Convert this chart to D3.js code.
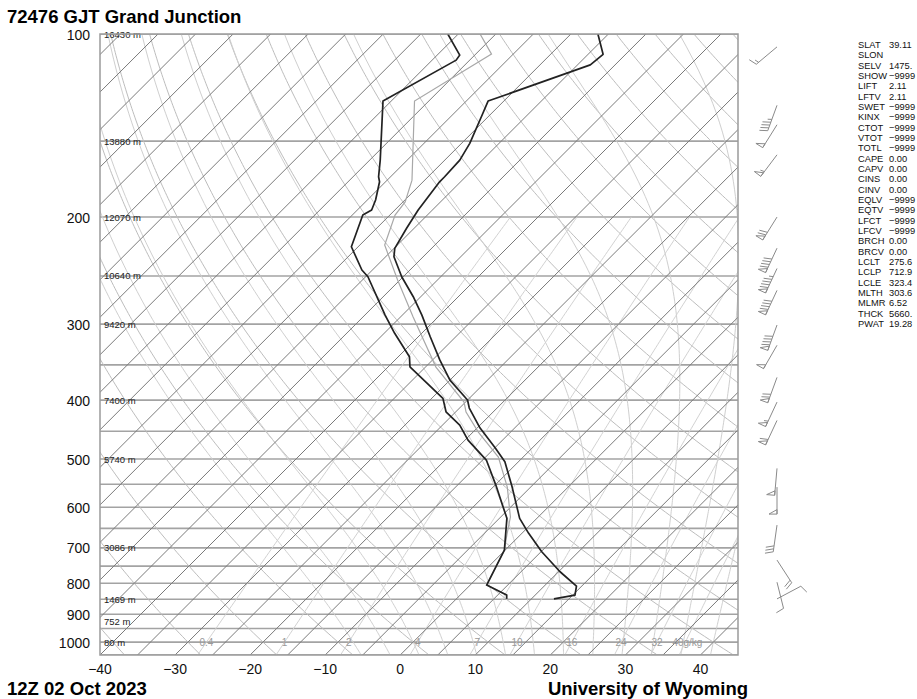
<!DOCTYPE html>
<html><head><meta charset="utf-8">
<script src="https://cdn.jsdelivr.net/npm/d3@7"></script>
<style>
body{margin:0;background:#fff;}
svg text{font-family:"Liberation Sans",Arial,Helvetica,sans-serif;}
</style></head>
<body><svg id="chart" width="917" height="699"></svg>
<script>
// ---------------- data ----------------
const title = "72476 GJT Grand Junction";
const dateLabel = "12Z 02 Oct 2023";
const credit = "University of Wyoming";

const pressureTicks = [100,200,300,400,500,600,700,800,900,1000];
const tempTicks = [-40,-30,-20,-10,0,10,20,30,40];
const heightLabels = ["16430 m","13880 m","12070 m","10640 m","9420 m","7400 m","5740 m","3086 m","1469 m","752 m","80 m"];
const heightLevels = [100,150,200,250,300,400,500,700,850,925,1000];
const mixRatios = [0.4,1,2,4,7,10,16,24,32,40];
const mixLabels = ["0.4","1","2","4","7","10","16","24","32","40g/kg"];

// temperature profile
const tempP = [100,108,112.4,128.9,136.8,151.3,161.2,171.7,175,194.7,208.7,225.2,232.4,250.7,270.4,289.9,314.7,343.8,370.8,399.9,412.2,444.6,479.7,505.2,555.5,625.8,662.4,710.3,766.1,808.9,836.9,849];
const tempT = [-56.4,-53.0,-53.3,-62.1,-60.9,-58.9,-58.0,-57.8,-57.8,-56.9,-56.0,-54.9,-53.9,-50.2,-46.0,-42.4,-38.4,-34.0,-30.0,-25.0,-23.7,-19.6,-14.9,-11.8,-7.5,-2.3,0.9,5.1,10.2,14.3,15.3,13.0];
// dewpoint profile
const dewP = [100,108.3,110.4,128.9,161.2,171.7,175,187.5,194.7,198.5,223.8,244.4,250.7,289.9,310.6,339.5,352.6,397.4,418.1,439.7,465.4,501.9,551.8,625.8,705.8,805.8,836.9,849];
const dewT = [-76.4,-72.0,-71.8,-76.1,-68.6,-66.6,-65.8,-63.9,-63.1,-63.6,-60.9,-56.4,-54.7,-47.3,-43.6,-38.5,-37.1,-28.5,-26.3,-22.7,-19.6,-14.5,-9.9,-4.0,-0.1,2.2,6.2,6.7];
// frost point profile (thin grey)
const frostP = [100,107.9,128.9,173.9,188.9,198.5,222.3,253.9,292.1,353,402.9,418.5,451.4,496.2,556.1,622.8,661.6,705.8,805.8,836.9,849];
const frostT = [-72.1,-67.9,-71.9,-61.7,-59.7,-59.3,-56.7,-50.3,-43.3,-33.6,-25.2,-23.6,-19.3,-13.3,-8.1,-3.7,-2.0,-0.1,2.2,6.2,6.7];

// winds (pressure hPa, direction deg, speed kt)
const windP   = [105,131,141,158,200,225,243,264,301,325,367,403,432,518,556,642,733,797,849];
const windDir = [230,200,212,217,212,205,205,205,200,210,200,205,205,185,180,188,147,166,62];
const windSpd = [15, 45, 50, 55, 70, 90, 95, 90, 90, 50, 70, 55, 60, 50, 50, 30, 20, 10, 10];

// stability indices panel
const indexNames = ["SLAT","SLON","SELV","SHOW","LIFT","LFTV","SWET","KINX","CTOT","VTOT","TOTL","CAPE","CAPV","CINS","CINV","EQLV","EQTV","LFCT","LFCV","BRCH","BRCV","LCLT","LCLP","LCLE","MLTH","MLMR","THCK","PWAT"];
const indexValues = ["39.11","","1475.","\u22129999","2.11","2.11","\u22129999","\u22129999","\u22129999","\u22129999","\u22129999","0.00","0.00","0.00","0.00","\u22129999","\u22129999","\u22129999","\u22129999","0.00","0.00","275.6","712.9","323.4","303.6","6.52","5660.","19.28"];

// ---------------- chart ----------------
const svg = d3.select("#chart");
const pTop = 100, pBot = 1050;
const y = d3.scaleLog().domain([pTop,pBot]).range([34,655]);
const x = d3.scaleLinear().domain([-40,45]).range([100,738]);
const X = (T,p) => x(T) + (y(pBot) - y(p));   // 45 degree skew
const pxL = x.range()[0], pxR = x.range()[1], pyT = y.range()[0], pyB = y.range()[1];

svg.append("defs").append("clipPath").attr("id","plotclip")
  .append("rect").attr("x",pxL).attr("y",pyT).attr("width",pxR-pxL).attr("height",pyB-pyT);
const g = svg.append("g").attr("clip-path","url(#plotclip)");

const pSteps = d3.range(0,201).map(i => pBot*Math.pow(pTop/pBot, i/200));
const line = d3.line().x(d=>X(d[1],d[0])).y(d=>y(d[0]));

// isobars every 50 hPa
g.selectAll(".isobar").data(d3.range(100,1051,50)).join("line")
  .attr("x1",pxL).attr("x2",pxR).attr("y1",d=>y(d)).attr("y2",d=>y(d))
  .attr("stroke","#a3a3a3").attr("stroke-width",1.6);

// dry adiabats
const thetas = d3.range(-40,200,10);
g.selectAll(".dry").data(thetas).join("path")
  .attr("d",th => line(pSteps.map(p => [p,(th+273.15)*Math.pow(p/1000,0.2857)-273.15])))
  .attr("fill","none").attr("stroke","#bdbdbd").attr("stroke-width",1);

// moist adiabats
function es(T){return 6.112*Math.exp(17.67*T/(T+243.5));}
function moist(T0){
  const Rd=287.04, cp=1005.7, L=2.5e6, eps=0.622;
  function dTdp(p,T){const Tk=T+273.15; const rs=eps*es(T)/(p-es(T));
    return (Rd*Tk+L*rs)/(p*(cp+L*L*rs*eps/(Rd*Tk*Tk)));}
  const pts=[[1000,T0]];
  let T=T0;
  for(let p=1000;p<pBot;p+=5){T+=dTdp(p,T)*5;pts.push([p+5,T]);}
  pts.reverse();
  T=T0;
  for(let p=1000;p>pTop;p-=5){T-=dTdp(p,T)*5;pts.push([p-5,T]);}
  return pts;
}
const moistStarts = d3.range(-8,45,4);
g.selectAll(".moist").data(moistStarts).join("path")
  .attr("d",t=>line(moist(t)))
  .attr("fill","none").attr("stroke","#cfcfcf").attr("stroke-width",1);

// mixing ratio lines
function tdFromW(w,p){const e=w*p/(622+w); const l=Math.log(e/6.112); return 243.5*l/(17.67-l);}
g.selectAll(".mix").data(mixRatios).join("path")
  .attr("d",w=>line(pSteps.filter(p=>p>=200).map(p=>[p,tdFromW(w,p)])))
  .attr("fill","none").attr("stroke","#d2d2d2").attr("stroke-width",1);

// isotherms every 5 C
g.selectAll(".iso").data(d3.range(-125,50,5)).join("line")
  .attr("x1",t=>X(t,pBot)).attr("y1",pyB).attr("x2",t=>X(t,pTop)).attr("y2",pyT)
  .attr("stroke","#7a7a7a").attr("stroke-width",1);

// mixing ratio labels
svg.selectAll(".mixlab").data(mixRatios).join("text")
  .attr("x",(w,i)=> i===mixRatios.length-1 ? X(tdFromW(w,1000),1000)-13 : X(tdFromW(w,1000),1000))
  .attr("y",y(1000)+4).attr("text-anchor",(w,i)=> i===mixRatios.length-1 ? "start" : "middle")
  .attr("font-size",10).attr("fill","#9a9a9a").text((w,i)=>mixLabels[i]);

// height labels
svg.selectAll(".hlab").data(heightLevels).join("text")
  .attr("x",pxL+4).attr("y",p=>y(p)+3.5).attr("font-size",9.5).attr("fill","#222")
  .text((p,i)=>heightLabels[i]);

// soundings
const profile = (P,T)=>P.map((p,i)=>[p,T[i]]);
g.append("path").attr("d",line(profile(frostP,frostT))).attr("fill","none")
  .attr("stroke","#a8a8a8").attr("stroke-width",1.2);
g.append("path").attr("d",line(profile(dewP,dewT))).attr("fill","none")
  .attr("stroke","#222").attr("stroke-width",1.7).attr("stroke-linejoin","round");
g.append("path").attr("d",line(profile(tempP,tempT))).attr("fill","none")
  .attr("stroke","#222").attr("stroke-width",1.7).attr("stroke-linejoin","round");

// frame
svg.append("rect").attr("x",pxL).attr("y",pyT).attr("width",pxR-pxL).attr("height",pyB-pyT)
  .attr("fill","none").attr("stroke","#9a9a9a").attr("stroke-width",1.5);

// axes labels
svg.selectAll(".plab").data(pressureTicks).join("text")
  .attr("x",90).attr("y",p=>y(p)+5.5).attr("text-anchor","end").attr("font-size",14)
  .attr("fill","#111").text(d=>d);
svg.selectAll(".tlab").data(tempTicks).join("text")
  .attr("x",t=>x(t)).attr("y",674).attr("text-anchor","middle").attr("font-size",14)
  .attr("fill","#111").text(d=>d3.format("d")(d));

// titles
svg.append("text").attr("x",7).attr("y",22.5).attr("font-size",18.5).attr("font-weight","bold").text(title);
svg.append("text").attr("x",7).attr("y",694.5).attr("font-size",18.5).attr("font-weight","bold").text(dateLabel);
svg.append("text").attr("x",748).attr("y",694.5).attr("text-anchor","end").attr("font-size",18.5).attr("font-weight","bold").text(credit);

// wind barbs
const barbX = 777;
function drawBarb(p,dir,spd){
  const gb = svg.append("g").attr("stroke","#8a8a8a").attr("fill","none").attr("stroke-width",1);
  const sx=barbX, sy=y(p);
  const a = dir*Math.PI/180;
  const ux=Math.sin(a), uy=-Math.cos(a);
  const px=-uy, py=ux;
  const Ls=27;
  const ex=sx+ux*Ls, ey=sy+uy*Ls;
  gb.append("line").attr("x1",sx).attr("y1",sy).attr("x2",ex).attr("y2",ey);
  let s=Math.round(spd/5)*5, pos=0, step=3, bl=8;
  while(s>=50){
    const b0=[ex-ux*pos,ey-uy*pos], b1=[ex-ux*(pos+4.5),ey-uy*(pos+4.5)];
    const tip=[b0[0]+px*bl,b0[1]+py*bl];
    gb.append("path").attr("d",`M${b0}L${tip}L${b1}Z`);
    pos+=6; s-=50;
  }
  while(s>=10){
    const b0=[ex-ux*pos,ey-uy*pos];
    gb.append("line").attr("x1",b0[0]).attr("y1",b0[1]).attr("x2",b0[0]+px*bl+ux*2.5).attr("y2",b0[1]+py*bl+uy*2.5);
    pos+=step; s-=10;
  }
  if(s>=5){
    if(pos===0) pos=step;
    const b0=[ex-ux*pos,ey-uy*pos];
    gb.append("line").attr("x1",b0[0]).attr("y1",b0[1]).attr("x2",b0[0]+px*bl/2+ux*1.25).attr("y2",b0[1]+py*bl/2+uy*1.25);
  }
}
windP.forEach((p,i)=>drawBarb(p,windDir[i],windSpd[i]));

// indices panel
const panel = svg.append("g").attr("font-size",9.3).attr("fill","#111");
indexNames.forEach((n,i)=>{
  panel.append("text").attr("x",858).attr("y",48+i*10.33).text(n);
  panel.append("text").attr("x",889).attr("y",48+i*10.33).text(indexValues[i]);
});
</script>
</body></html>
